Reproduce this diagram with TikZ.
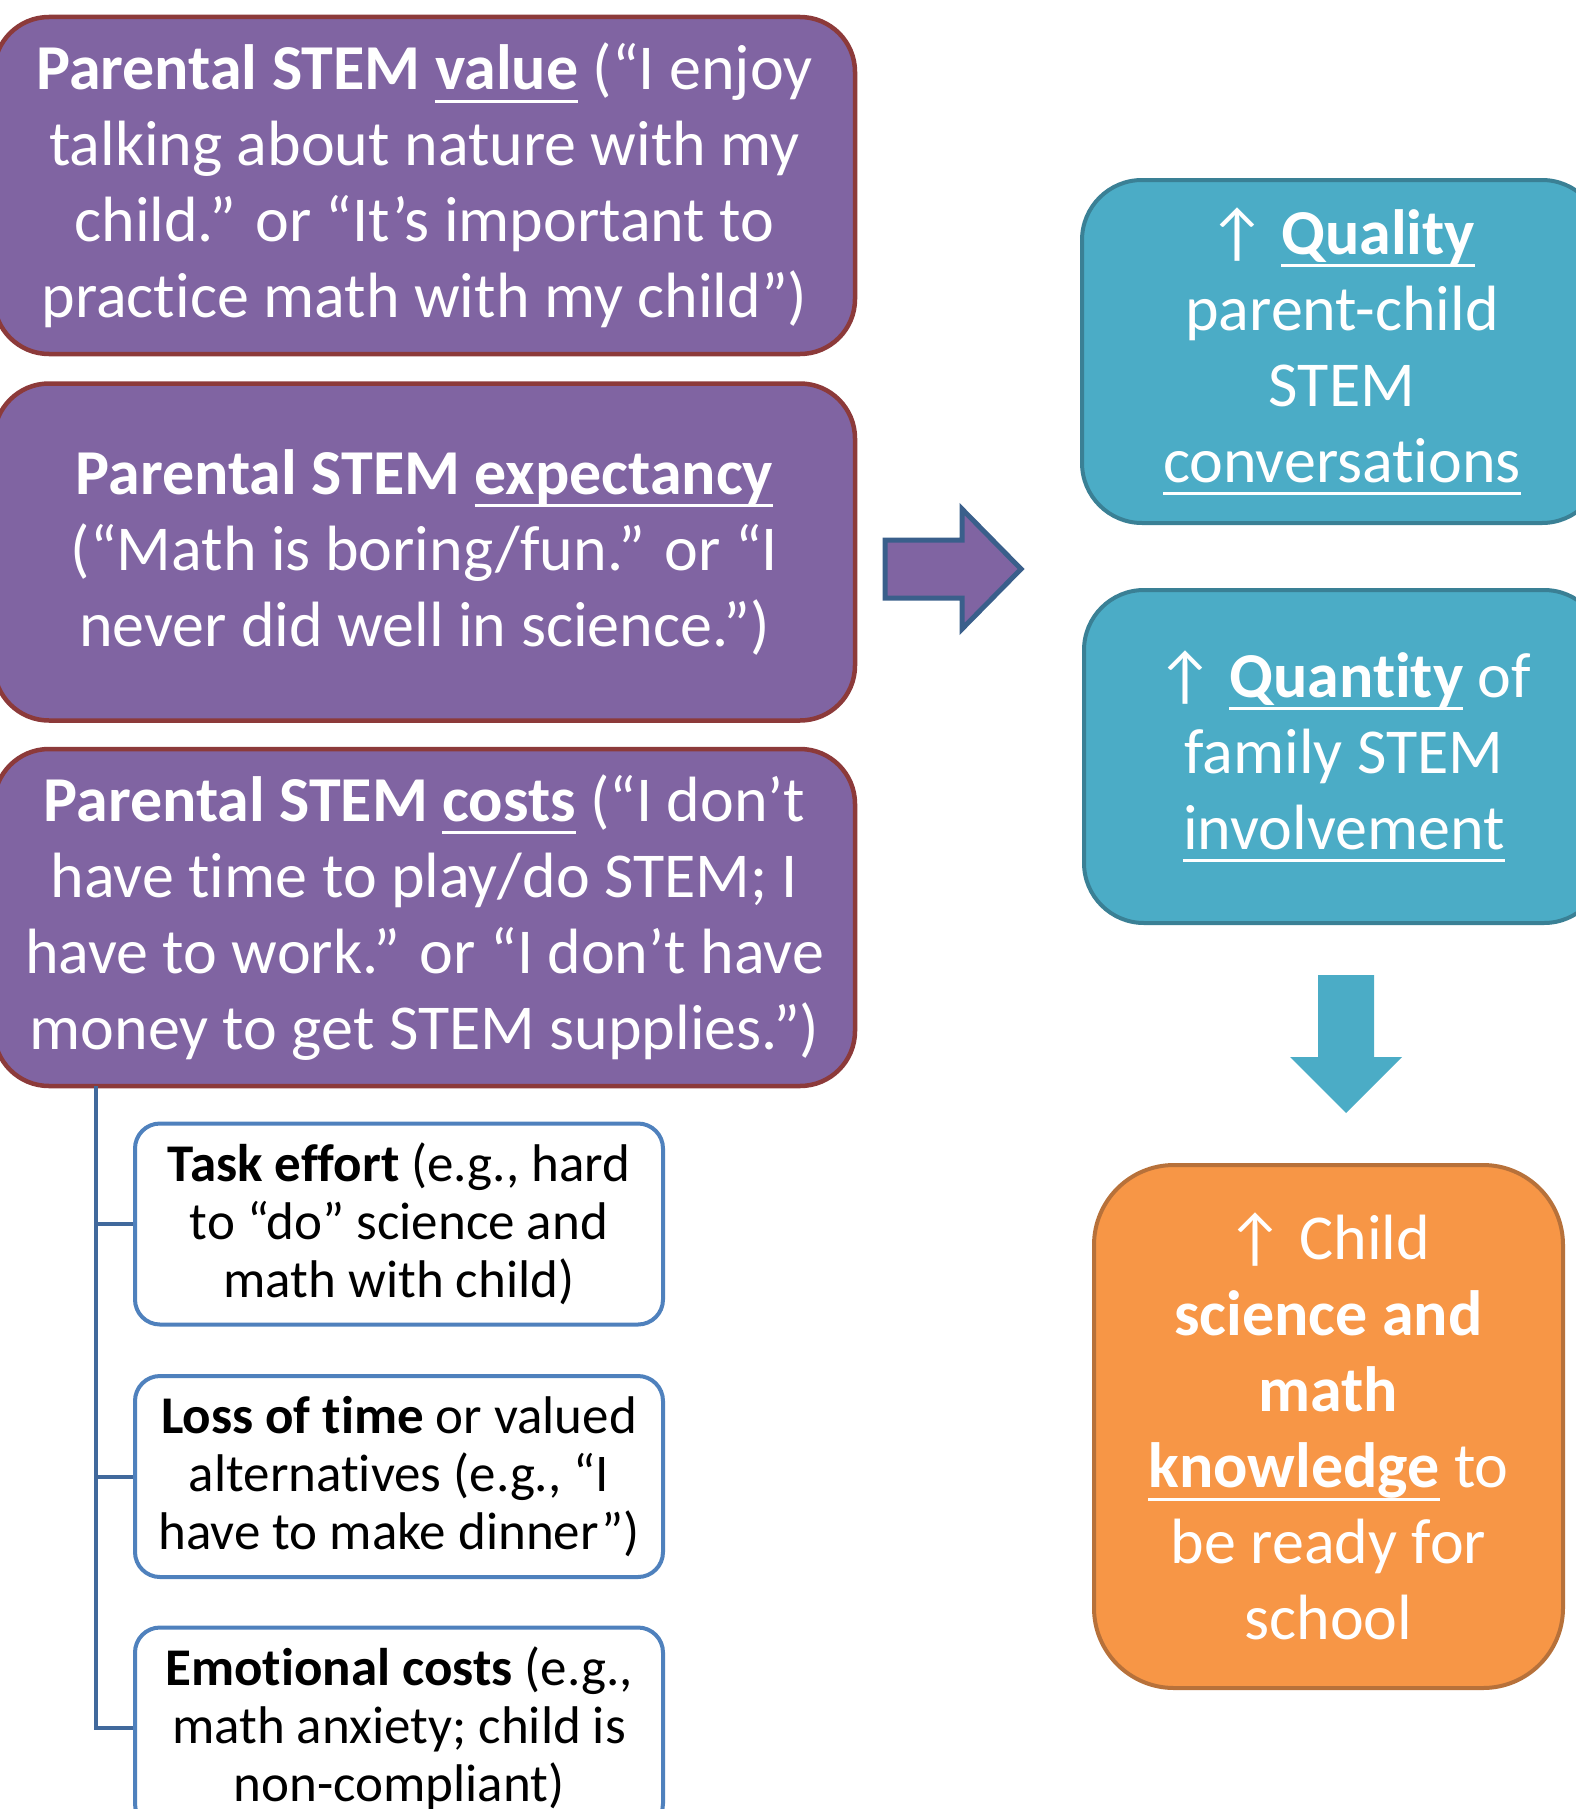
\documentclass[tikz,border=0pt]{standalone}
\usepackage{fontspec}
\setmainfont{Carlito}[Ligatures={TeX,NoCommon}]
\newsavebox{\ulbox}
\newcommand{\ulnd}[1]{\sbox\ulbox{#1}\rlap{\rule[-13pt]{\wd\ulbox}{3pt}}\usebox\ulbox}
\definecolor{purp}{HTML}{8064A2}
\definecolor{purpedge}{HTML}{8C3A3A}
\definecolor{arrowedge}{HTML}{3A5F8B}
\definecolor{tealfill}{HTML}{4BACC6}
\definecolor{tealedge}{HTML}{3A8095}
\definecolor{orng}{HTML}{F79646}
\definecolor{orngedge}{HTML}{B7713A}
\definecolor{smalledge}{HTML}{4F81BD}
\definecolor{trunkcol}{HTML}{41699C}
\tikzset{
  bigtext/.style={text=white, inner sep=0pt, align=center, font=\fontsize{64}{76}\selectfont},
  purplebox/.style={bigtext, rounded corners=55pt, draw=purpedge, line width=4.5pt, fill=purp, minimum width=861pt, minimum height=337pt},
  tealbox/.style={bigtext, rounded corners=60pt, draw=tealedge, line width=4pt, fill=tealfill, minimum width=520pt},
  orangebox/.style={bigtext, rounded corners=80pt, draw=orngedge, line width=4pt, fill=orng, minimum width=469pt, minimum height=523pt},
  smallbox/.style={rounded corners=25pt, draw=smalledge, line width=4pt, fill=white, text=black, inner sep=0pt, align=center, font=\fontsize{53}{58}\selectfont, minimum width=528pt, minimum height=201pt},
  trunk/.style={draw=trunkcol, line width=4pt},
}
\begin{document}
\begin{tikzpicture}[x=1pt,y=-1pt]
\useasboundingbox (0,0) rectangle (1576,1809);
% purple boxes
\node[purplebox] (b1) at (424.5,185.5) {\textbf{Parental STEM \ulnd{value}} (“I enjoy\\talking about nature with my\\child.” or “It’s important to\\practice math with my child”)};
\node[purplebox] (b2) at (424.5,552) {\textbf{Parental STEM \ulnd{expectancy}}\\(“Math is boring/fun.” or “I\\never did well in science.”)};
\node[purplebox] (b3) at (424.5,917.5) {\textbf{Parental STEM \ulnd{costs}} (“I don’t\\have time to play/do STEM; I\\have to work.” or “I don’t have\\money to get STEM supplies.”)};
% small boxes
\node[smallbox] (s1) at (399,1224) {\textbf{Task effort} (e.g., hard\\to “do” science and\\math with child)};
\node[smallbox] (s2) at (399,1476.5) {\textbf{Loss of time} or valued\\alternatives (e.g., “I\\have to make dinner”)};
\node[smallbox] (s3) at (399,1728) {\textbf{Emotional costs} (e.g.,\\math anxiety; child is\\non-compliant)};
% trunk
\coordinate (tr) at (96,1086);
\draw[trunk] (tr) |- (s3.west);
\draw[trunk] (tr |- s1.west) -- (s1.west);
\draw[trunk] (tr |- s2.west) -- (s2.west);
% right block arrow
\draw[fill=purp, draw=arrowedge, line width=5pt, line join=miter]
  (885,540) -- (962,540) -- (962,509) -- (1021,569) -- (962,629) -- (962,598) -- (885,598) -- cycle;
% teal boxes
\node[tealbox, minimum height=343pt] (q1) at (1342,351.5) {↑ \textbf{\ulnd{Quality}}\\parent-child\\STEM\\\ulnd{conversations}};
\node[tealbox, minimum height=333pt] (q2) at (1344,756.5) {↑ \textbf{\ulnd{Quantity}} of\\family STEM\\\ulnd{involvement}};
% down block arrow
\fill[tealfill] (1318,975) -- (1374,975) -- (1374,1057) -- (1402,1057) -- (1346,1113) -- (1290,1057) -- (1318,1057) -- cycle;
% orange box
\node[orangebox] (k) at (1328.5,1426.5) {↑ Child\\\textbf{science and}\\\textbf{math}\\\textbf{\ulnd{knowledge}} to\\be ready for\\school};
\end{tikzpicture}
\end{document}
